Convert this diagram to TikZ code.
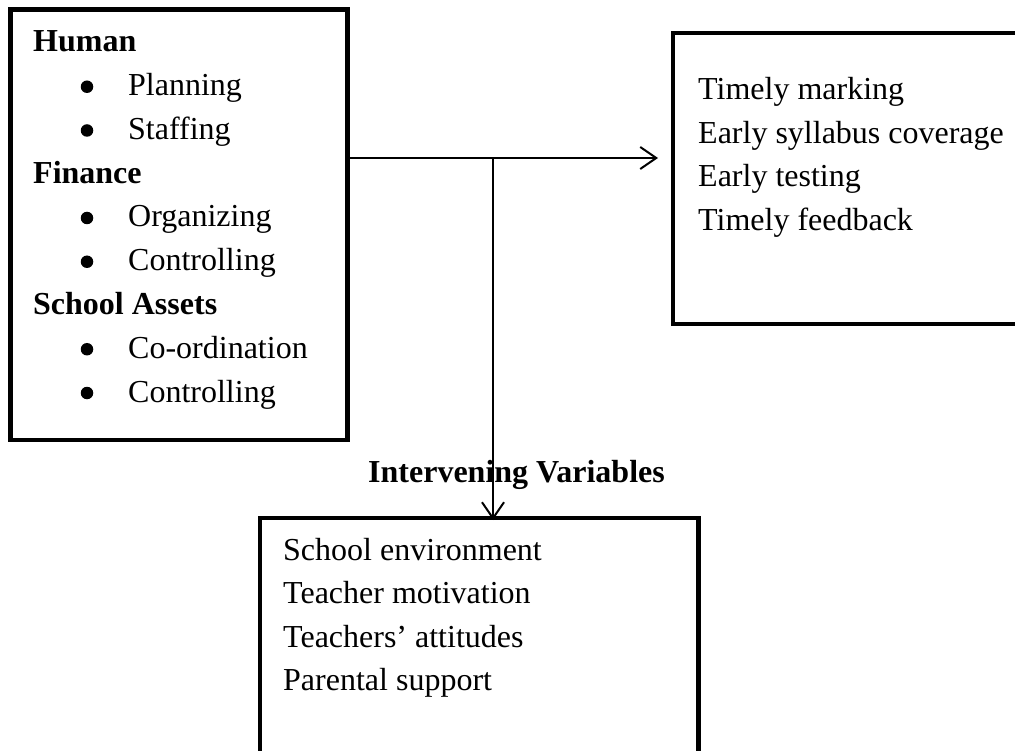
\documentclass[tikz,border=0pt]{standalone}
\usepackage{fontspec}
\setmainfont{Liberation Serif}
\usetikzlibrary{arrows.meta}
\begin{document}
\begin{tikzpicture}[x=1pt,y=-1pt,
  box/.style={draw=black, line width=4.5pt, rectangle, inner sep=0pt, outer sep=0pt},
  txt/.style={anchor=base west, inner sep=0pt, font=\fontsize{32pt}{38pt}\selectfont},
  hd/.style={txt, font=\fontsize{32pt}{38pt}\selectfont\bfseries},
  bul/.style={circle, fill=black, inner sep=0pt, minimum size=12.5pt},
  conn/.style={draw=black, line width=2pt, -{Straight Barb[length=16pt, width=22pt, line width=2pt]}}]
\useasboundingbox (0,0) rectangle (1015,751);
\clip (0,0) rectangle (1015,751);
\fill[white] (0,0) rectangle (1015,751);

% boxes
\node[box, minimum width=337pt, minimum height=430.5pt] (L) at (179,224.75) {};
\node[box, minimum width=357pt, minimum height=291pt] (R) at (851.5,178.5) {};
\node[box, minimum width=438.5pt, minimum height=252pt] (B) at (479.25,644) {};

% left box text
\node[hd] (h1) at (33,52) {Human};
\node[bul] (b1) at (87,86.75) {};
\node[txt] (t1) at (128,95.75) {Planning};
\node[bul] (b2) at (87,130.5) {};
\node[txt] (t2) at (128,139.5) {Staffing};
\node[hd] (h2) at (33,183.25) {Finance};
\node[bul] (b3) at (87,218) {};
\node[txt] (t3) at (128,227) {Organizing};
\node[bul] (b4) at (87,261.75) {};
\node[txt] (t4) at (128,270.75) {Controlling};
\node[hd] (h3) at (33,314.5) {School Assets};
\node[bul] (b5) at (87,349.25) {};
\node[txt] (t5) at (128,358.25) {Co-ordination};
\node[bul] (b6) at (87,393) {};
\node[txt] (t6) at (128,402) {Controlling};

% right box text
\node[txt] (r1) at (698,100) {Timely marking};
\node[txt] (r2) at (698,143.5) {Early syllabus coverage};
\node[txt] (r3) at (698,187) {Early testing};
\node[txt] (r4) at (698,230.5) {Timely feedback};

% bottom box text
\node[txt] (s1) at (283,560) {School environment};
\node[txt] (s2) at (283,603.5) {Teacher motivation};
\node[txt] (s3) at (283,647) {Teachers’ attitudes};
\node[txt] (s4) at (283,690.5) {Parental support};

% label
\node[hd, anchor=base] (iv) at (516.5,482) {Intervening Variables};

% connectors
\coordinate (j) at (493,158);
\draw[conn] (L.east |- j) -- ([xshift=-15pt]R.west |- j);
\draw[conn] (j) -- ([yshift=-2pt]B.north -| j);
\end{tikzpicture}
\end{document}
